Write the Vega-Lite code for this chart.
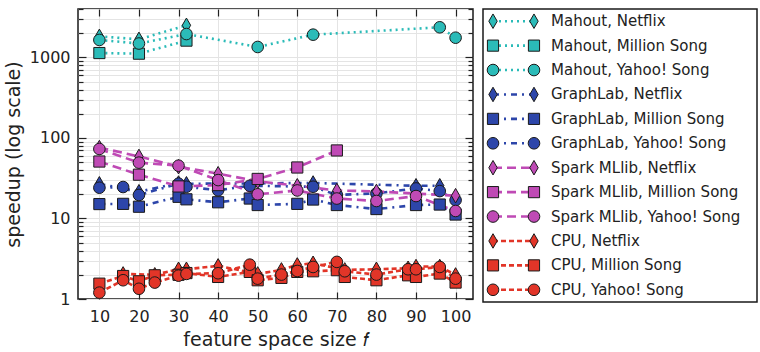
{
  "$schema": "https://vega.github.io/schema/vega-lite/v6.json",
  "background": "white",
  "padding": {"left": 3, "top": 7, "right": 0, "bottom": 0},
  "spacing": 7,
  "resolve": {"scale": {"x": "independent", "y": "independent"}},
  "config": {
    "font": "DejaVu Sans",
    "view": {"stroke": "#1a1a1a", "strokeWidth": 1.5},
    "axis": {
      "labelFont": "DejaVu Sans", "titleFont": "DejaVu Sans",
      "labelColor": "#222", "titleColor": "#222", "titleFontWeight": "normal",
      "labelFontSize": 16, "titleFontSize": 19, "domain": false,
      "tickColor": "#222", "tickWidth": 1.2, "gridColor": "#e4e4e4", "gridWidth": 1
    }
  },
  "datasets": {
    "pts": [
      {"sys": "Mahout", "ds": "Netflix", "f": 10, "speedup": 1830},
      {"sys": "Mahout", "ds": "Netflix", "f": 20, "speedup": 1680},
      {"sys": "Mahout", "ds": "Netflix", "f": 32, "speedup": 2510},
      {"sys": "Mahout", "ds": "Million Song", "f": 10, "speedup": 1135},
      {"sys": "Mahout", "ds": "Million Song", "f": 20, "speedup": 1115},
      {"sys": "Mahout", "ds": "Million Song", "f": 32, "speedup": 1620},
      {"sys": "Mahout", "ds": "Yahoo! Song", "f": 10, "speedup": 1650},
      {"sys": "Mahout", "ds": "Yahoo! Song", "f": 20, "speedup": 1490},
      {"sys": "Mahout", "ds": "Yahoo! Song", "f": 32, "speedup": 1955},
      {"sys": "Mahout", "ds": "Yahoo! Song", "f": 50, "speedup": 1350},
      {"sys": "Mahout", "ds": "Yahoo! Song", "f": 64, "speedup": 1920},
      {"sys": "Mahout", "ds": "Yahoo! Song", "f": 96, "speedup": 2370},
      {"sys": "Mahout", "ds": "Yahoo! Song", "f": 100, "speedup": 1760},

      {"sys": "GraphLab", "ds": "Netflix", "f": 10, "speedup": 27},
      {"sys": "GraphLab", "ds": "Netflix", "f": 20, "speedup": 21.5},
      {"sys": "GraphLab", "ds": "Netflix", "f": 30, "speedup": 27.6},
      {"sys": "GraphLab", "ds": "Netflix", "f": 32, "speedup": 27},
      {"sys": "GraphLab", "ds": "Netflix", "f": 64, "speedup": 27.6},
      {"sys": "GraphLab", "ds": "Netflix", "f": 90, "speedup": 25.5},
      {"sys": "GraphLab", "ds": "Netflix", "f": 96, "speedup": 25.5},
      {"sys": "GraphLab", "ds": "Million Song", "f": 10, "speedup": 15.1},
      {"sys": "GraphLab", "ds": "Million Song", "f": 16, "speedup": 15.2},
      {"sys": "GraphLab", "ds": "Million Song", "f": 20, "speedup": 14.0},
      {"sys": "GraphLab", "ds": "Million Song", "f": 30, "speedup": 18.6},
      {"sys": "GraphLab", "ds": "Million Song", "f": 32, "speedup": 17.3},
      {"sys": "GraphLab", "ds": "Million Song", "f": 40, "speedup": 15.9},
      {"sys": "GraphLab", "ds": "Million Song", "f": 48, "speedup": 17.7},
      {"sys": "GraphLab", "ds": "Million Song", "f": 50, "speedup": 14.7},
      {"sys": "GraphLab", "ds": "Million Song", "f": 60, "speedup": 15.2},
      {"sys": "GraphLab", "ds": "Million Song", "f": 64, "speedup": 17.2},
      {"sys": "GraphLab", "ds": "Million Song", "f": 70, "speedup": 14.7},
      {"sys": "GraphLab", "ds": "Million Song", "f": 80, "speedup": 13.1},
      {"sys": "GraphLab", "ds": "Million Song", "f": 90, "speedup": 14.7},
      {"sys": "GraphLab", "ds": "Million Song", "f": 96, "speedup": 14.9},
      {"sys": "GraphLab", "ds": "Million Song", "f": 100, "speedup": 11.2},
      {"sys": "GraphLab", "ds": "Yahoo! Song", "f": 10, "speedup": 24.1},
      {"sys": "GraphLab", "ds": "Yahoo! Song", "f": 16, "speedup": 24.6},
      {"sys": "GraphLab", "ds": "Yahoo! Song", "f": 20, "speedup": 19.6},
      {"sys": "GraphLab", "ds": "Yahoo! Song", "f": 30, "speedup": 27.1},
      {"sys": "GraphLab", "ds": "Yahoo! Song", "f": 32, "speedup": 24.8},
      {"sys": "GraphLab", "ds": "Yahoo! Song", "f": 40, "speedup": 22.4},
      {"sys": "GraphLab", "ds": "Yahoo! Song", "f": 48, "speedup": 25.5},
      {"sys": "GraphLab", "ds": "Yahoo! Song", "f": 64, "speedup": 24.8},
      {"sys": "GraphLab", "ds": "Yahoo! Song", "f": 70, "speedup": 19.6},
      {"sys": "GraphLab", "ds": "Yahoo! Song", "f": 80, "speedup": 20.5},
      {"sys": "GraphLab", "ds": "Yahoo! Song", "f": 90, "speedup": 23.6},
      {"sys": "GraphLab", "ds": "Yahoo! Song", "f": 96, "speedup": 21.9},
      {"sys": "GraphLab", "ds": "Yahoo! Song", "f": 100, "speedup": 16.9},

      {"sys": "Spark MLlib", "ds": "Netflix", "f": 10, "speedup": 76},
      {"sys": "Spark MLlib", "ds": "Netflix", "f": 20, "speedup": 59},
      {"sys": "Spark MLlib", "ds": "Netflix", "f": 30, "speedup": 44},
      {"sys": "Spark MLlib", "ds": "Netflix", "f": 40, "speedup": 36},
      {"sys": "Spark MLlib", "ds": "Netflix", "f": 50, "speedup": 29},
      {"sys": "Spark MLlib", "ds": "Netflix", "f": 60, "speedup": 25.5},
      {"sys": "Spark MLlib", "ds": "Netflix", "f": 70, "speedup": 22.3},
      {"sys": "Spark MLlib", "ds": "Netflix", "f": 80, "speedup": 21.7},
      {"sys": "Spark MLlib", "ds": "Netflix", "f": 100, "speedup": 19.2},
      {"sys": "Spark MLlib", "ds": "Million Song", "f": 10, "speedup": 51},
      {"sys": "Spark MLlib", "ds": "Million Song", "f": 20, "speedup": 35},
      {"sys": "Spark MLlib", "ds": "Million Song", "f": 30, "speedup": 25},
      {"sys": "Spark MLlib", "ds": "Million Song", "f": 40, "speedup": 26},
      {"sys": "Spark MLlib", "ds": "Million Song", "f": 50, "speedup": 31},
      {"sys": "Spark MLlib", "ds": "Million Song", "f": 60, "speedup": 43},
      {"sys": "Spark MLlib", "ds": "Million Song", "f": 70, "speedup": 70},
      {"sys": "Spark MLlib", "ds": "Yahoo! Song", "f": 10, "speedup": 73},
      {"sys": "Spark MLlib", "ds": "Yahoo! Song", "f": 20, "speedup": 49.4},
      {"sys": "Spark MLlib", "ds": "Yahoo! Song", "f": 30, "speedup": 45.3},
      {"sys": "Spark MLlib", "ds": "Yahoo! Song", "f": 40, "speedup": 30},
      {"sys": "Spark MLlib", "ds": "Yahoo! Song", "f": 50, "speedup": 20},
      {"sys": "Spark MLlib", "ds": "Yahoo! Song", "f": 60, "speedup": 22.3},
      {"sys": "Spark MLlib", "ds": "Yahoo! Song", "f": 70, "speedup": 17.7},
      {"sys": "Spark MLlib", "ds": "Yahoo! Song", "f": 80, "speedup": 16.5},
      {"sys": "Spark MLlib", "ds": "Yahoo! Song", "f": 90, "speedup": 19},
      {"sys": "Spark MLlib", "ds": "Yahoo! Song", "f": 100, "speedup": 12.4},

      {"sys": "CPU", "ds": "Netflix", "f": 16, "speedup": 2.05},
      {"sys": "CPU", "ds": "Netflix", "f": 24, "speedup": 2.0},
      {"sys": "CPU", "ds": "Netflix", "f": 30, "speedup": 2.34},
      {"sys": "CPU", "ds": "Netflix", "f": 32, "speedup": 2.34},
      {"sys": "CPU", "ds": "Netflix", "f": 40, "speedup": 2.58},
      {"sys": "CPU", "ds": "Netflix", "f": 50, "speedup": 2.05},
      {"sys": "CPU", "ds": "Netflix", "f": 56, "speedup": 2.3},
      {"sys": "CPU", "ds": "Netflix", "f": 60, "speedup": 2.65},
      {"sys": "CPU", "ds": "Netflix", "f": 64, "speedup": 2.78},
      {"sys": "CPU", "ds": "Netflix", "f": 72, "speedup": 2.3},
      {"sys": "CPU", "ds": "Netflix", "f": 80, "speedup": 2.34},
      {"sys": "CPU", "ds": "Netflix", "f": 88, "speedup": 2.41},
      {"sys": "CPU", "ds": "Netflix", "f": 90, "speedup": 2.53},
      {"sys": "CPU", "ds": "Netflix", "f": 96, "speedup": 2.53},
      {"sys": "CPU", "ds": "Netflix", "f": 100, "speedup": 1.99},
      {"sys": "CPU", "ds": "Million Song", "f": 10, "speedup": 1.55},
      {"sys": "CPU", "ds": "Million Song", "f": 16, "speedup": 1.93},
      {"sys": "CPU", "ds": "Million Song", "f": 20, "speedup": 1.66},
      {"sys": "CPU", "ds": "Million Song", "f": 24, "speedup": 1.97},
      {"sys": "CPU", "ds": "Million Song", "f": 30, "speedup": 2.0},
      {"sys": "CPU", "ds": "Million Song", "f": 32, "speedup": 2.1},
      {"sys": "CPU", "ds": "Million Song", "f": 40, "speedup": 1.88},
      {"sys": "CPU", "ds": "Million Song", "f": 48, "speedup": 2.17},
      {"sys": "CPU", "ds": "Million Song", "f": 50, "speedup": 1.71},
      {"sys": "CPU", "ds": "Million Song", "f": 56, "speedup": 1.83},
      {"sys": "CPU", "ds": "Million Song", "f": 60, "speedup": 2.17},
      {"sys": "CPU", "ds": "Million Song", "f": 64, "speedup": 2.21},
      {"sys": "CPU", "ds": "Million Song", "f": 70, "speedup": 2.28},
      {"sys": "CPU", "ds": "Million Song", "f": 72, "speedup": 1.88},
      {"sys": "CPU", "ds": "Million Song", "f": 80, "speedup": 1.71},
      {"sys": "CPU", "ds": "Million Song", "f": 88, "speedup": 1.97},
      {"sys": "CPU", "ds": "Million Song", "f": 90, "speedup": 1.88},
      {"sys": "CPU", "ds": "Million Song", "f": 96, "speedup": 2.07},
      {"sys": "CPU", "ds": "Million Song", "f": 100, "speedup": 1.6},
      {"sys": "CPU", "ds": "Yahoo! Song", "f": 10, "speedup": 1.2},
      {"sys": "CPU", "ds": "Yahoo! Song", "f": 16, "speedup": 1.71},
      {"sys": "CPU", "ds": "Yahoo! Song", "f": 20, "speedup": 1.34},
      {"sys": "CPU", "ds": "Yahoo! Song", "f": 24, "speedup": 1.6},
      {"sys": "CPU", "ds": "Yahoo! Song", "f": 30, "speedup": 1.95},
      {"sys": "CPU", "ds": "Yahoo! Song", "f": 32, "speedup": 2.05},
      {"sys": "CPU", "ds": "Yahoo! Song", "f": 40, "speedup": 2.09},
      {"sys": "CPU", "ds": "Yahoo! Song", "f": 48, "speedup": 2.67},
      {"sys": "CPU", "ds": "Yahoo! Song", "f": 50, "speedup": 1.79},
      {"sys": "CPU", "ds": "Yahoo! Song", "f": 56, "speedup": 2.01},
      {"sys": "CPU", "ds": "Yahoo! Song", "f": 60, "speedup": 2.23},
      {"sys": "CPU", "ds": "Yahoo! Song", "f": 64, "speedup": 2.5},
      {"sys": "CPU", "ds": "Yahoo! Song", "f": 70, "speedup": 2.89},
      {"sys": "CPU", "ds": "Yahoo! Song", "f": 72, "speedup": 2.21},
      {"sys": "CPU", "ds": "Yahoo! Song", "f": 80, "speedup": 2.01},
      {"sys": "CPU", "ds": "Yahoo! Song", "f": 88, "speedup": 2.34},
      {"sys": "CPU", "ds": "Yahoo! Song", "f": 90, "speedup": 2.34},
      {"sys": "CPU", "ds": "Yahoo! Song", "f": 96, "speedup": 2.5},
      {"sys": "CPU", "ds": "Yahoo! Song", "f": 100, "speedup": 1.79}
    ],
    "leg": [
      {"sys": "Mahout", "ds": "Netflix", "label": "Mahout, Netflix"},
      {"sys": "Mahout", "ds": "Million Song", "label": "Mahout, Million Song"},
      {"sys": "Mahout", "ds": "Yahoo! Song", "label": "Mahout, Yahoo! Song"},
      {"sys": "GraphLab", "ds": "Netflix", "label": "GraphLab, Netflix"},
      {"sys": "GraphLab", "ds": "Million Song", "label": "GraphLab, Million Song"},
      {"sys": "GraphLab", "ds": "Yahoo! Song", "label": "GraphLab, Yahoo! Song"},
      {"sys": "Spark MLlib", "ds": "Netflix", "label": "Spark MLlib, Netflix"},
      {"sys": "Spark MLlib", "ds": "Million Song", "label": "Spark MLlib, Million Song"},
      {"sys": "Spark MLlib", "ds": "Yahoo! Song", "label": "Spark MLlib, Yahoo! Song"},
      {"sys": "CPU", "ds": "Netflix", "label": "CPU, Netflix"},
      {"sys": "CPU", "ds": "Million Song", "label": "CPU, Million Song"},
      {"sys": "CPU", "ds": "Yahoo! Song", "label": "CPU, Yahoo! Song"}
    ]
  },
  "hconcat": [
    {
      "width": 395,
      "height": 290,
      "data": {"name": "pts"},
      "resolve": {"axis": {"x": "independent", "y": "independent"}},
      "layer": [
        {
          "mark": {"type": "line", "strokeWidth": 2.6, "strokeCap": "butt"},
          "encoding": {
            "x": {"field": "f", "type": "quantitative",
              "scale": {"domain": [4.6, 104.4], "nice": false, "zero": false},
              "axis": {"orient": "top", "values": [10, 20, 30, 40, 50, 60, 70, 80, 90, 100], "tickSize": -7, "labels": false, "grid": false, "title": null}},
            "y": {"field": "speedup", "type": "quantitative",
              "scale": {"type": "log", "domain": [1, 4000], "nice": false},
              "axis": {"orient": "right", "values": [1,2,3,4,5,6,7,8,9,10,20,30,40,50,60,70,80,90,100,200,300,400,500,600,700,800,900,1000,2000,3000,4000],
                "labels": false, "grid": false, "title": null,
                "tickSize": {"condition": {"test": "abs(log(datum.value)/LN10 - round(log(datum.value)/LN10)) < 0.000001", "value": -8}, "value": -5}}},
            "color": {"field": "sys", "type": "nominal",
              "scale": {"domain": ["Mahout", "GraphLab", "Spark MLlib", "CPU"], "range": ["#2bbbb8", "#2d46aa", "#bf4ab5", "#e23528"]}, "legend": null},
            "strokeDash": {"field": "sys", "type": "nominal",
              "scale": {"domain": ["Mahout", "GraphLab", "Spark MLlib", "CPU"], "range": [[2, 4], [6, 5, 2, 5], [9, 5], [5, 3]]}, "legend": null},
            "detail": {"field": "ds", "type": "nominal"},
            "order": {"field": "f", "type": "quantitative"}
          }
        },
        {
          "mark": {"type": "point", "filled": true, "stroke": "#1a1a1a", "strokeWidth": 1, "opacity": 1},
          "encoding": {
            "x": {"field": "f", "type": "quantitative",
              "axis": {"orient": "bottom", "values": [10, 20, 30, 40, 50, 60, 70, 80, 90, 100], "tickSize": -7, "labelPadding": 16, "grid": true, "format": "d", "title": "feature space size 𝑓", "titlePadding": 6}},
            "y": {"field": "speedup", "type": "quantitative",
              "axis": {"orient": "left", "values": [1,2,3,4,5,6,7,8,9,10,20,30,40,50,60,70,80,90,100,200,300,400,500,600,700,800,900,1000,2000,3000,4000],
                "grid": true, "format": "d", "labelPadding": 16, "title": "speedup (log scale)", "titlePadding": 6,
                "labelExpr": "(datum.value == 1 || datum.value == 10 || datum.value == 100 || datum.value == 1000) ? datum.label : ''",
                "tickSize": {"condition": {"test": "abs(log(datum.value)/LN10 - round(log(datum.value)/LN10)) < 0.000001", "value": -8}, "value": -5}}},
            "fill": {"field": "sys", "type": "nominal",
              "scale": {"domain": ["Mahout", "GraphLab", "Spark MLlib", "CPU"], "range": ["#2bbbb8", "#2d46aa", "#bf4ab5", "#e23528"]}, "legend": null},
            "shape": {"field": "ds", "type": "nominal",
              "scale": {"domain": ["Netflix", "Million Song", "Yahoo! Song"], "range": ["M0,-1L0.58,0L0,1L-0.58,0Z", "square", "circle"]}, "legend": null},
            "size": {"field": "ds", "type": "nominal",
              "scale": {"type": "ordinal", "domain": ["Netflix", "Million Song", "Yahoo! Song"], "range": [210, 125, 135]}, "legend": null}
          }
        }
      ]
    },
    {
      "width": 274,
      "height": 293,
      "data": {"name": "leg"},
      "encoding": {
        "y": {"field": "label", "type": "nominal", "axis": null,
          "scale": {"type": "point", "padding": 0.5, "domain": ["Mahout, Netflix", "Mahout, Million Song", "Mahout, Yahoo! Song", "GraphLab, Netflix", "GraphLab, Million Song", "GraphLab, Yahoo! Song", "Spark MLlib, Netflix", "Spark MLlib, Million Song", "Spark MLlib, Yahoo! Song", "CPU, Netflix", "CPU, Million Song", "CPU, Yahoo! Song"]}}
      },
      "layer": [
        {
          "mark": {"type": "rule", "strokeWidth": 2.6, "strokeCap": "butt"},
          "encoding": {
            "x": {"datum": 0, "type": "quantitative", "scale": {"domain": [-0.244, 6.44], "nice": false, "zero": false}, "axis": null},
            "x2": {"datum": 1},
            "color": {"field": "sys", "type": "nominal",
              "scale": {"domain": ["Mahout", "GraphLab", "Spark MLlib", "CPU"], "range": ["#2bbbb8", "#2d46aa", "#bf4ab5", "#e23528"]}, "legend": null},
            "strokeDash": {"field": "sys", "type": "nominal",
              "scale": {"domain": ["Mahout", "GraphLab", "Spark MLlib", "CPU"], "range": [[2, 4], [6, 5, 2, 5], [9, 5], [5, 3]]}, "legend": null}
          }
        },
        {
          "mark": {"type": "point", "filled": true, "stroke": "#1a1a1a", "strokeWidth": 1, "opacity": 1},
          "encoding": {
            "x": {"datum": 0, "type": "quantitative"},
            "fill": {"field": "sys", "type": "nominal",
              "scale": {"domain": ["Mahout", "GraphLab", "Spark MLlib", "CPU"], "range": ["#2bbbb8", "#2d46aa", "#bf4ab5", "#e23528"]}, "legend": null},
            "shape": {"field": "ds", "type": "nominal",
              "scale": {"domain": ["Netflix", "Million Song", "Yahoo! Song"], "range": ["M0,-1L0.58,0L0,1L-0.58,0Z", "square", "circle"]}, "legend": null},
            "size": {"field": "ds", "type": "nominal",
              "scale": {"type": "ordinal", "domain": ["Netflix", "Million Song", "Yahoo! Song"], "range": [210, 125, 135]}, "legend": null}
          }
        },
        {
          "mark": {"type": "point", "filled": true, "stroke": "#1a1a1a", "strokeWidth": 1, "opacity": 1},
          "encoding": {
            "x": {"datum": 1, "type": "quantitative"},
            "fill": {"field": "sys", "type": "nominal",
              "scale": {"domain": ["Mahout", "GraphLab", "Spark MLlib", "CPU"], "range": ["#2bbbb8", "#2d46aa", "#bf4ab5", "#e23528"]}, "legend": null},
            "shape": {"field": "ds", "type": "nominal",
              "scale": {"domain": ["Netflix", "Million Song", "Yahoo! Song"], "range": ["M0,-1L0.58,0L0,1L-0.58,0Z", "square", "circle"]}, "legend": null},
            "size": {"field": "ds", "type": "nominal",
              "scale": {"type": "ordinal", "domain": ["Netflix", "Million Song", "Yahoo! Song"], "range": [210, 125, 135]}, "legend": null}
          }
        },
        {
          "mark": {"type": "text", "align": "left", "baseline": "middle", "dx": 17, "fontSize": 15, "font": "DejaVu Sans", "color": "#222"},
          "encoding": {
            "x": {"datum": 1, "type": "quantitative"},
            "text": {"field": "label", "type": "nominal"}
          }
        }
      ]
    }
  ]
}
